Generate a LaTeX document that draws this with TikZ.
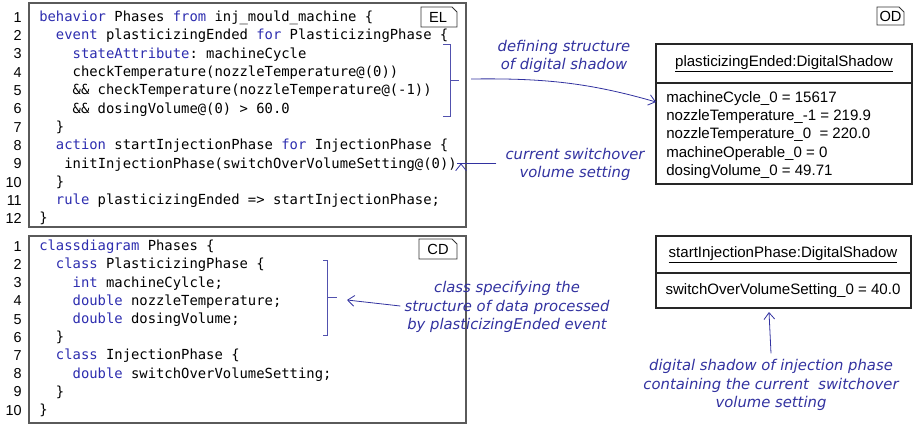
\documentclass[tikz,border=0pt]{standalone}
\usepackage{fontspec}
\setmainfont{Liberation Sans}
\setmonofont{DejaVu Sans Mono}
\newfontfamily\notefont{DejaVu Sans}
\usetikzlibrary{arrows.meta}

\definecolor{kwblue}{RGB}{45,45,175}
\definecolor{noteblue}{RGB}{50,50,160}
\definecolor{framegray}{RGB}{90,90,90}
\newcommand{\kw}[1]{\textcolor{kwblue}{#1}}

\tikzset{
  lnum/.style={anchor=east, inner sep=0pt, text height=8pt, text depth=0pt, font=\fontsize{10.8}{13}\selectfont},
  code/.style={anchor=west, inner sep=0pt, text height=8pt, text depth=1pt, font=\ttfamily\fontsize{10.4}{13}\selectfont},
  frame/.style={draw=framegray, line width=1pt},
  tagline/.style={draw=black!80, line width=0.7pt},
  tagtext/.style={inner sep=0pt, font=\fontsize{11}{13}\selectfont},
  objline/.style={draw=black!85, line width=0.8pt},
  objtext/.style={inner sep=0pt, font=\fontsize{11.3}{13.65}\selectfont},
  brace/.style={draw=noteblue!85, line width=0.6pt},
  note/.style={inner sep=0pt, align=center, text=noteblue, font=\notefont\itshape\fontsize{11.1}{13.6}\selectfont},
  notearrow/.style={draw=noteblue, line width=0.6pt, -{Straight Barb[length=5pt,width=8pt]}}
}

\begin{document}
\begin{tikzpicture}[x=0.75pt,y=0.75pt,yscale=-1,xscale=1]
\useasboundingbox (0,0) rectangle (913,424);

%Shape: EL frame
\draw [frame] (29,3) -- (466,3) -- (466,227) -- (29,227) -- cycle ;
%Shape: EL tag
\draw [tagline] (421,7) -- (452,7) -- (457,12) -- (457,27) -- (421,27) -- cycle ;
\node [tagtext] (el-tag) at (438,17.5) {EL};

% Line numbers EL
\foreach \i in {1,...,12}
  \node [lnum] (el-n\i) at (22,{17+18.3*(\i-1)}) {\i};

% Text Node
\node [code] (el-c1) at (39,17) {\kw{behavior} Phases \kw{from} inj\_mould\_machine \{};
% Text Node
\node [code] (el-c2) at (55.7,35.3) {\kw{event} plasticizingEnded \kw{for} PlasticizingPhase \{};
% Text Node
\node [code] (el-c3) at (72.4,53.6) {\kw{stateAttribute}: machineCycle};
% Text Node
\node [code] (el-c4) at (72.4,71.9) {checkTemperature(nozzleTemperature@(0))};
% Text Node
\node [code] (el-c5) at (72.4,90.2) {\&\& checkTemperature(nozzleTemperature@(-1))};
% Text Node
\node [code] (el-c6) at (72.4,108.5) {\&\& dosingVolume@(0) > 60.0};
% Text Node
\node [code] (el-c7) at (55.7,126.8) {\}};
% Text Node
\node [code] (el-c8) at (55.7,145.1) {\kw{action} startInjectionPhase \kw{for} InjectionPhase \{};
% Text Node
\node [code] (el-c9) at (64.1,163.4) {initInjectionPhase(switchOverVolumeSetting@(0))};
% Text Node
\node [code] (el-c10) at (55.7,181.7) {\}};
% Text Node
\node [code] (el-c11) at (55.7,200) {\kw{rule} plasticizingEnded => startInjectionPhase;};
% Text Node
\node [code] (el-c12) at (39,218.3) {\}};

%Shape: CD frame
\draw [frame] (29,236) -- (466,236) -- (466,423) -- (29,423) -- cycle ;
%Shape: CD tag
\draw [tagline] (419,239) -- (452,239) -- (457,244) -- (457,259) -- (419,259) -- cycle ;
\node [tagtext] (cd-tag) at (438,249.5) {CD};

% Line numbers CD
\foreach \i in {1,...,10}
  \node [lnum] (cd-n\i) at (22,{246+18.2*(\i-1)}) {\i};

% Text Node
\node [code] (cd-c1) at (39,246) {\kw{classdiagram} Phases \{};
% Text Node
\node [code] (cd-c2) at (55.7,264.2) {\kw{class} PlasticizingPhase \{};
% Text Node
\node [code] (cd-c3) at (72.4,282.4) {\kw{int} machineCylcle;};
% Text Node
\node [code] (cd-c4) at (72.4,300.6) {\kw{double} nozzleTemperature;};
% Text Node
\node [code] (cd-c5) at (72.4,318.8) {\kw{double} dosingVolume;};
% Text Node
\node [code] (cd-c6) at (55.7,337) {\}};
% Text Node
\node [code] (cd-c7) at (55.7,355.2) {\kw{class} InjectionPhase \{};
% Text Node
\node [code] (cd-c8) at (72.4,373.4) {\kw{double} switchOverVolumeSetting;};
% Text Node
\node [code] (cd-c9) at (55.7,391.6) {\}};
% Text Node
\node [code] (cd-c10) at (39,409.8) {\}};

%Shape: OD tag
\draw [tagline] (877,7) -- (899,7) -- (904,12) -- (904,25) -- (877,25) -- cycle ;
\node [tagtext] (od-tag) at (890.5,16) {OD};

%Shape: plasticizingEnded object
\draw [objline] (656,44) -- (912,44) -- (912,184) -- (656,184) -- cycle ;
\draw [objline] (656,83) -- (912,83) ;
\node [objtext] (od1-title) at (784,64) {\underline{plasticizingEnded:DigitalShadow}};
\node [objtext, anchor=west, align=left] (od1-attr) at (666,135) {machineCycle\_0 = 15617\\nozzleTemperature\_-1 = 219.9\\nozzleTemperature\_0 \ = 220.0\\machineOperable\_0 = 0\\dosingVolume\_0 = 49.71};

%Shape: startInjectionPhase object
\draw [objline] (656,236) -- (911,236) -- (911,308) -- (656,308) -- cycle ;
\draw [objline] (656,273) -- (911,273) ;
\node [objtext] (od2-title) at (783,255) {\underline{startInjectionPhase:DigitalShadow}};
\node [objtext] (od2-attr) at (783,291) {switchOverVolumeSetting\_0 = 40.0};

% Brackets
\draw [brace] (443,44) -- (450,44) -- (450,116) -- (443,116) ;
\draw [brace] (450,80) -- (459,80) ;
\draw [brace] (323,260) -- (327,260) -- (327,335) -- (323,335) ;
\draw [brace] (327,297) -- (337,297) ;

\coordinate (el-out) at (471,79);
\coordinate (od1-in) at (656,102);
\coordinate (cd-in) at (347,300);
\coordinate (od2-in) at (769,312);

% Notes
\node [note] (note-struct) at (564,56) {defining structure\\of digital shadow};
\node [note] (note-switch) at (575,164) {current switchover\\volume setting};
\node [note] (note-class) at (507,307) {class specifying the\\structure of data processed\\by plasticizingEnded event};
\node [note] (note-shadow) at (771,385) {digital shadow of injection phase\\containing the current \ switchover\\volume setting};

% Arrows
\draw [notearrow] (el-out) .. controls (545,78) and (590,83) .. (od1-in) ;
\draw [notearrow] (note-switch.west |- el-c9) ++(-9,0) -- (el-c9.east) ++(4,0) ;
\draw [notearrow] ([xshift=-3pt]note-class.west |- 0,306) -- (cd-in) ;
\draw [notearrow] (note-shadow.north) ++(0,-6) -- (od2-in) ;

\end{tikzpicture}
\end{document}
